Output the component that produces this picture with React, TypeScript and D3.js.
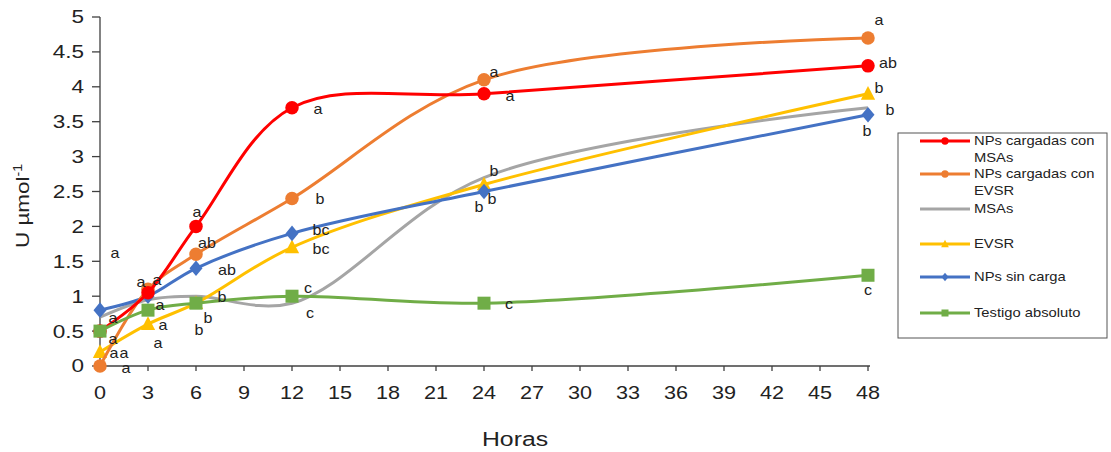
import React from "react";
import * as d3 from "d3";

const hours = [0, 3, 6, 12, 24, 48];
const xTicks = [0, 3, 6, 9, 12, 15, 18, 21, 24, 27, 30, 33, 36, 39, 42, 45, 48];
const yTicks = [0, 0.5, 1, 1.5, 2, 2.5, 3, 3.5, 4, 4.5, 5];

const seriesNames = [
  "NPs cargadas con MSAs",
  "NPs cargadas con EVSR",
  "MSAs",
  "EVSR",
  "NPs sin carga",
  "Testigo absoluto",
];
const redValues = [0.5, 1.05, 2.0, 3.7, 3.9, 4.3];
const orangeValues = [0.0, 1.1, 1.6, 2.4, 4.1, 4.7];
const grayValues = [0.7, 0.95, 1.0, 0.9, 2.7, 3.7];
const yellowValues = [0.2, 0.6, 0.9, 1.7, 2.6, 3.9];
const blueValues = [0.8, 1.0, 1.4, 1.9, 2.5, 3.6];
const greenValues = [0.5, 0.8, 0.9, 1.0, 0.9, 1.3];

const redLetters = ["a", "a", "a", "a", "a", "ab"];
const orangeLetters = ["a", "a", "ab", "b", "a", "a"];
const grayLetters = ["a", "", "b", "c", "b", "b"];
const yellowLetters = ["a", "a", "b", "bc", "b", "b"];
const blueLetters = ["a", "a", "ab", "bc", "b", "b"];
const greenLetters = ["a", "a", "b", "c", "c", "c"];

const colors = ["#FF0000", "#ED7D31", "#A5A5A5", "#FFC000", "#4472C4", "#70AD47"];
const markers = ["circle", "circle", "none", "triangle", "diamond", "square"];

// label offsets (dx, dy) in pixels from each point, per series
const letterOffsets: [number, number][][] = [
  [[14, 22], [12, 12], [1, -14], [26, 1], [26, 2], [20, -3]],
  [[26, 2], [9, -9], [11, -11], [28, 1], [10, -8], [11, -18]],
  [[13, 1], [0, 0], [12, 22], [16, -15], [10, -6], [22, 2]],
  [[24, 1], [15, 1], [3, 27], [29, 2], [-5, 23], [11, -6]],
  [[15, -57], [-7, -14], [31, 2], [29, -3], [8, 8], [-1, 16]],
  [[13, 8], [10, 33], [26, -6], [18, 17], [25, 1], [0, 15]],
];

const W = 1111;
const H = 452;
const font = "'Liberation Sans', Arial, sans-serif";

function SText(props: {
  x: number;
  y: number;
  sx: number;
  size: number;
  anchor?: "start" | "middle" | "end";
  dy?: string;
  children: React.ReactNode;
}) {
  const { x, y, sx, size, anchor = "start", dy, children } = props;
  return (
    <text
      transform={`translate(${x},${y}) scale(${sx},1)`}
      textAnchor={anchor}
      dy={dy}
      fontSize={size}
      fill="#222"
    >
      {children}
    </text>
  );
}

export default function App() {
  const x = d3.scaleLinear().domain([0, 48]).range([100, 868]);
  const y = d3.scaleLinear().domain([0, 5]).range([366, 17]);
  const allValues = [redValues, orangeValues, grayValues, yellowValues, blueValues, greenValues];
  const allLetters = [redLetters, orangeLetters, grayLetters, yellowLetters, blueLetters, greenLetters];

  const line = d3
    .line<number>()
    .x((_, i) => x(hours[i]))
    .y((d) => y(d))
    .curve(d3.curveCatmullRom.alpha(0.5));

  const drawOrder = [2, 3, 4, 1, 0, 5];

  const marker = (type: string, cx: number, cy: number, color: string, s: number, key: string) => {
    if (type === "circle") return <circle key={key} cx={cx} cy={cy} r={s * 0.52} fill={color} />;
    if (type === "square")
      return <rect key={key} x={cx - s / 2} y={cy - s / 2} width={s} height={s} fill={color} />;
    if (type === "diamond")
      return (
        <path key={key} d={`M${cx},${cy - s * 0.6}L${cx + s * 0.5},${cy}L${cx},${cy + s * 0.6}L${cx - s * 0.5},${cy}Z`} fill={color} />
      );
    if (type === "triangle")
      return (
        <path key={key} d={`M${cx},${cy - s * 0.6}L${cx + s * 0.55},${cy + s * 0.45}L${cx - s * 0.55},${cy + s * 0.45}Z`} fill={color} />
      );
    return null;
  };

  const legendRows = [141, 174, 209, 244, 277, 313];

  return (
    <svg width={W} height={H} style={{ position: "absolute", left: 0, top: 0, background: "#fff" }} fontFamily={font}>
      <rect x={0} y={0} width={W} height={H} fill="#ffffff" />
      {/* axes */}
      <line x1={100} x2={100} y1={y(5)} y2={y(0)} stroke="#404040" strokeWidth={1.3} />
      <line x1={100} x2={x(48) + 2} y1={y(0)} y2={y(0)} stroke="#404040" strokeWidth={1.3} />
      {yTicks.map((t) => (
        <g key={"yt" + t}>
          <line x1={92} x2={100} y1={y(t)} y2={y(t)} stroke="#404040" strokeWidth={1.3} />
          <SText x={84} y={y(t)} sx={1.25} size={18} anchor="end" dy="0.36em">
            {String(t)}
          </SText>
        </g>
      ))}
      {xTicks.map((t) => (
        <g key={"xt" + t}>
          <line x1={x(t)} x2={x(t)} y1={y(0)} y2={y(0) + 5} stroke="#404040" strokeWidth={1.3} />
          <SText x={x(t)} y={399} sx={1.2} size={18} anchor="middle">
            {String(t)}
          </SText>
        </g>
      ))}
      <SText x={515} y={446} sx={1.18} size={21} anchor="middle">
        Horas
      </SText>
      <text transform="translate(29,206) rotate(-90) scale(1.18,1)" textAnchor="middle" fontSize={19} fill="#222">
        U µmol<tspan dy={-7} fontSize={12}>-1</tspan>
      </text>

      {/* series */}
      {drawOrder.map((si) => (
        <g key={"s" + si}>
          <path d={line(allValues[si]) || ""} fill="none" stroke={colors[si]} strokeWidth={3} />
          {allValues[si].map((v, i) => marker(markers[si], x(hours[i]), y(v), colors[si], 13, `m${si}-${i}`))}
        </g>
      ))}
      {/* letters */}
      {allLetters.map((ls, si) =>
        ls.map((l, i) =>
          l ? (
            <SText
              key={`l${si}-${i}`}
              x={x(hours[i]) + letterOffsets[si][i][0]}
              y={y(allValues[si][i]) + letterOffsets[si][i][1]}
              sx={1.15}
              dy="0.35em"
              anchor="middle"
              size={14}
            >
              {l}
            </SText>
          ) : null
        )
      )}

      {/* legend */}
      <rect x={898} y={133} width={209} height={205} fill="#fff" stroke="#555" strokeWidth={1} />
      {seriesNames.map((name, si) => {
        const ly = legendRows[si];
        const words = name.startsWith("NPs cargadas con") ? ["NPs cargadas con", name.replace("NPs cargadas con ", "")] : [name];
        return (
          <g key={"lg" + si}>
            <line x1={920} x2={970} y1={ly} y2={ly} stroke={colors[si]} strokeWidth={3} />
            {marker(markers[si], 945, ly, colors[si], 7, "lm" + si)}
            {words.map((w, wi) => (
              <SText key={wi} x={974} y={ly + wi * 17} sx={1.18} size={12.5} dy="0.35em">
                {w}
              </SText>
            ))}
          </g>
        );
      })}
    </svg>
  );
}
